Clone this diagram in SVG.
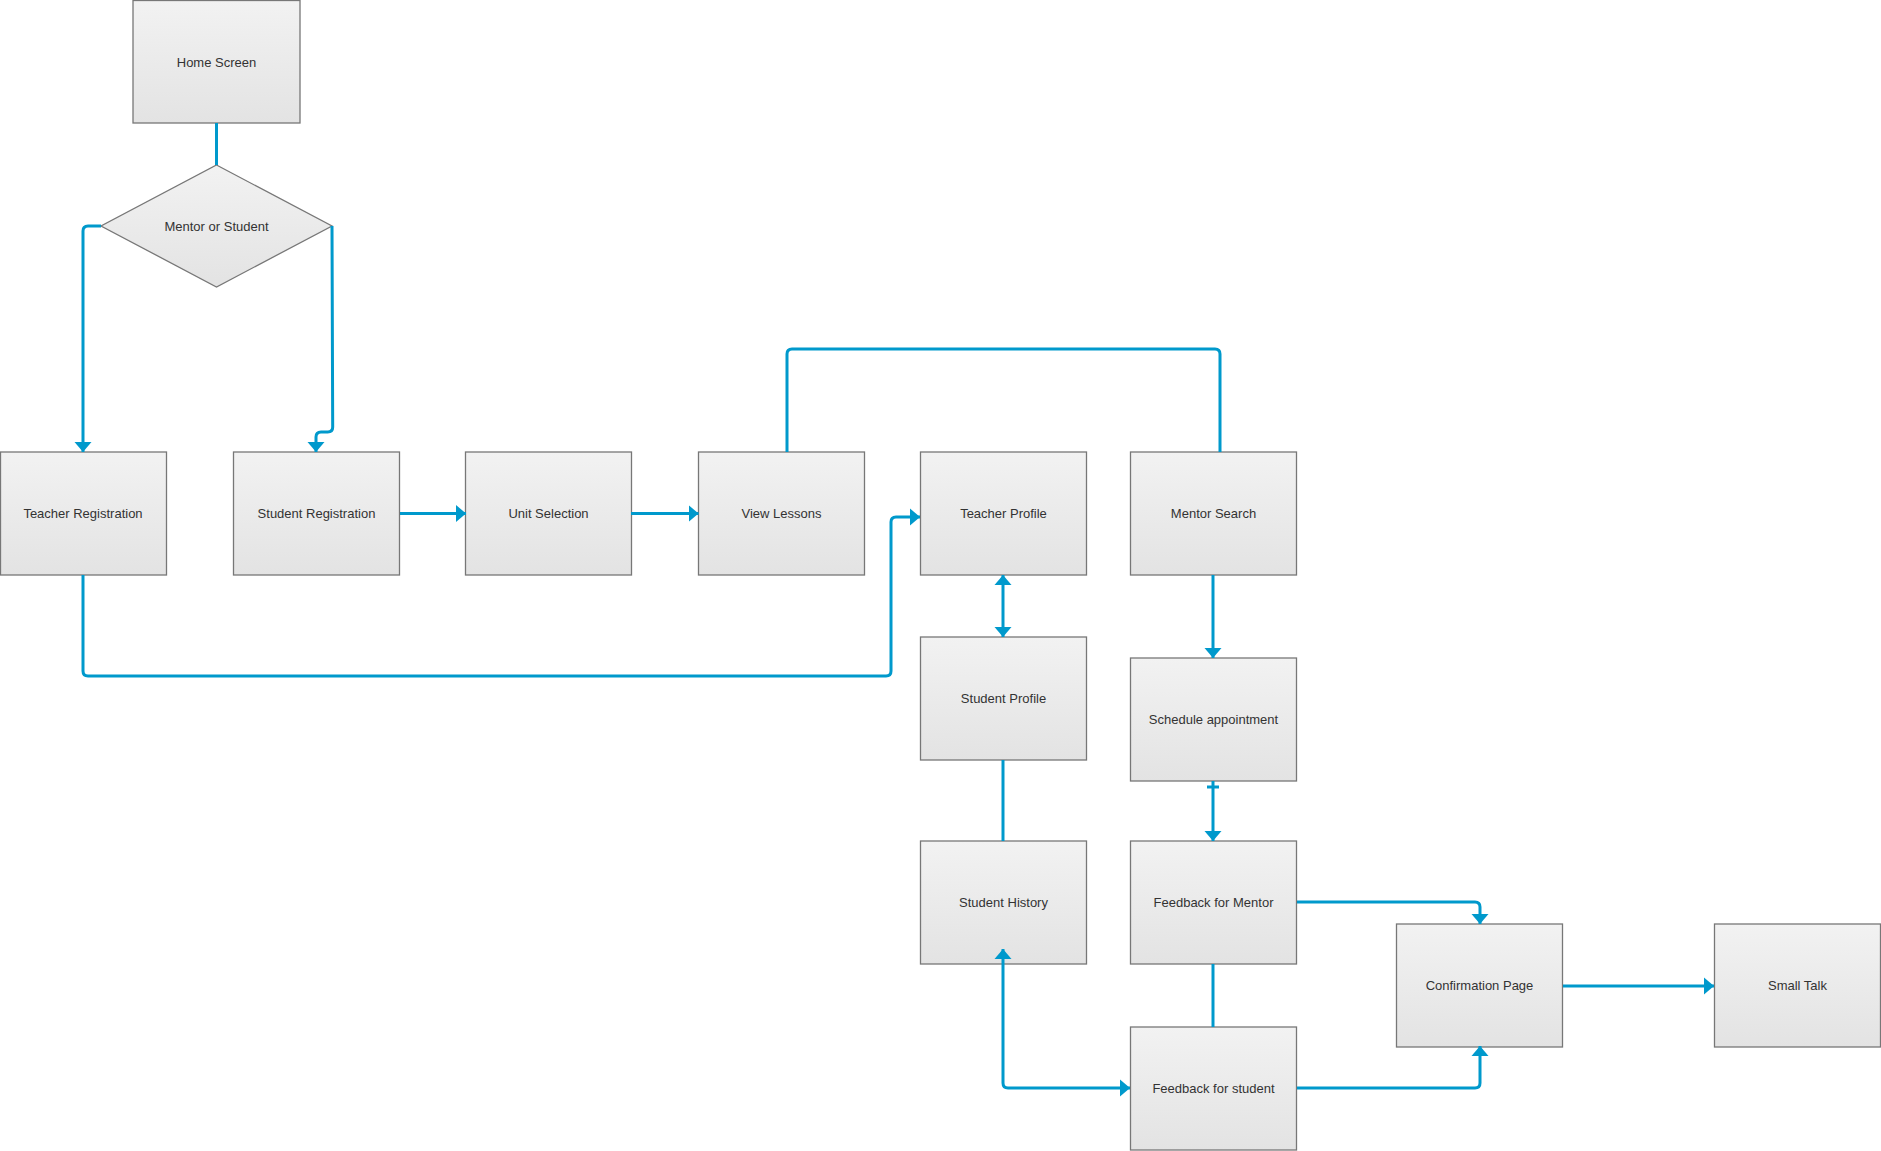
<svg xmlns="http://www.w3.org/2000/svg" width="1881" height="1151" viewBox="0 0 1881 1151">
<defs>
<linearGradient id="g" x1="0" y1="0" x2="0" y2="1">
<stop offset="0" stop-color="#f2f2f2"/>
<stop offset="1" stop-color="#e3e3e3"/>
</linearGradient>
<marker id="arr" markerUnits="userSpaceOnUse" markerWidth="11" markerHeight="18" viewBox="0 0 11 18" refX="10" refY="9" orient="auto-start-reverse">
<path d="M0,0.5 L10,9 L0,17.5 z" fill="#0099cc"/>
</marker>
<style>
.n rect,.n polygon{fill:url(#g);stroke:#777;stroke-width:1.3}
.n text{font-family:"Liberation Sans",Arial,sans-serif;font-size:13px;fill:#333;text-anchor:middle;dominant-baseline:central}
.c path{fill:none;stroke:#0099cc;stroke-width:3}
</style>
</defs>
<rect width="1881" height="1151" fill="#fff"/>
<g class="n" id="home-screen"><rect x="133" y="0.5" width="167" height="122.5"/><text x="216.5" y="62">Home Screen</text></g>
<g class="n" id="mentor-or-student"><polygon points="216.5,165 332,226 216.5,287 101,226"/><text x="216.5" y="226">Mentor or Student</text></g>
<g class="n" id="teacher-registration"><rect x="0.5" y="452" width="166" height="123"/><text x="83" y="513.5">Teacher Registration</text></g>
<g class="n" id="student-registration"><rect x="233.5" y="452" width="166" height="123"/><text x="316.5" y="513.5">Student Registration</text></g>
<g class="n" id="unit-selection"><rect x="465.5" y="452" width="166" height="123"/><text x="548.5" y="513.5">Unit Selection</text></g>
<g class="n" id="view-lessons"><rect x="698.5" y="452" width="166" height="123"/><text x="781.5" y="513.5">View Lessons</text></g>
<g class="n" id="teacher-profile"><rect x="920.5" y="452" width="166" height="123"/><text x="1003.5" y="513.5">Teacher Profile</text></g>
<g class="n" id="mentor-search"><rect x="1130.5" y="452" width="166" height="123"/><text x="1213.5" y="513.5">Mentor Search</text></g>
<g class="n" id="student-profile"><rect x="920.5" y="637" width="166" height="123"/><text x="1003.5" y="698.5">Student Profile</text></g>
<g class="n" id="schedule-appointment"><rect x="1130.5" y="658" width="166" height="123"/><text x="1213.5" y="719.5">Schedule appointment</text></g>
<g class="n" id="student-history"><rect x="920.5" y="841" width="166" height="123"/><text x="1003.5" y="902.5">Student History</text></g>
<g class="n" id="feedback-for-mentor"><rect x="1130.5" y="841" width="166" height="123"/><text x="1213.5" y="902.5">Feedback for Mentor</text></g>
<g class="n" id="feedback-for-student"><rect x="1130.5" y="1027" width="166" height="123"/><text x="1213.5" y="1088.5">Feedback for student</text></g>
<g class="n" id="confirmation-page"><rect x="1396.5" y="924" width="166" height="123"/><text x="1479.5" y="985.5">Confirmation Page</text></g>
<g class="n" id="small-talk"><rect x="1714.5" y="924" width="166" height="123"/><text x="1797.5" y="985.5">Small Talk</text></g>
<g class="c" id="connectors">
<path d="M216.5,123 V165"/>
<path d="M101,226 H88 Q83,226 83,231 V452" marker-end="url(#arr)"/>
<path d="M332,226 L332.7,427 Q332.7,432 327.7,432 H321 Q316,432 316,437 V452" marker-end="url(#arr)"/>
<path d="M400,513.5 H466" marker-end="url(#arr)"/>
<path d="M631,513.5 H698.5" marker-end="url(#arr)"/>
<path d="M787,452 V354 Q787,349 792,349 H1215 Q1220,349 1220,354 V452"/>
<path d="M83,575 V671 Q83,676 88,676 H886 Q891,676 891,671 V522 Q891,517 896,517 H920" marker-end="url(#arr)"/>
<path d="M1003,575 V637" marker-start="url(#arr)" marker-end="url(#arr)"/>
<path d="M1213,575 V658" marker-end="url(#arr)"/>
<path d="M1003,760 V841"/>
<path d="M1213,781 V841" marker-end="url(#arr)"/>
<path d="M1207,787 H1219"/>
<path d="M1213,964 V1027"/>
<path d="M1003,949 V1083 Q1003,1088 1008,1088 H1130" marker-start="url(#arr)" marker-end="url(#arr)"/>
<path d="M1297,902 H1475 Q1480,902 1480,907 V924" marker-end="url(#arr)"/>
<path d="M1297,1088 H1475 Q1480,1088 1480,1083 V1046" marker-end="url(#arr)"/>
<path d="M1563,986 H1714" marker-end="url(#arr)"/>
</g>
</svg>
